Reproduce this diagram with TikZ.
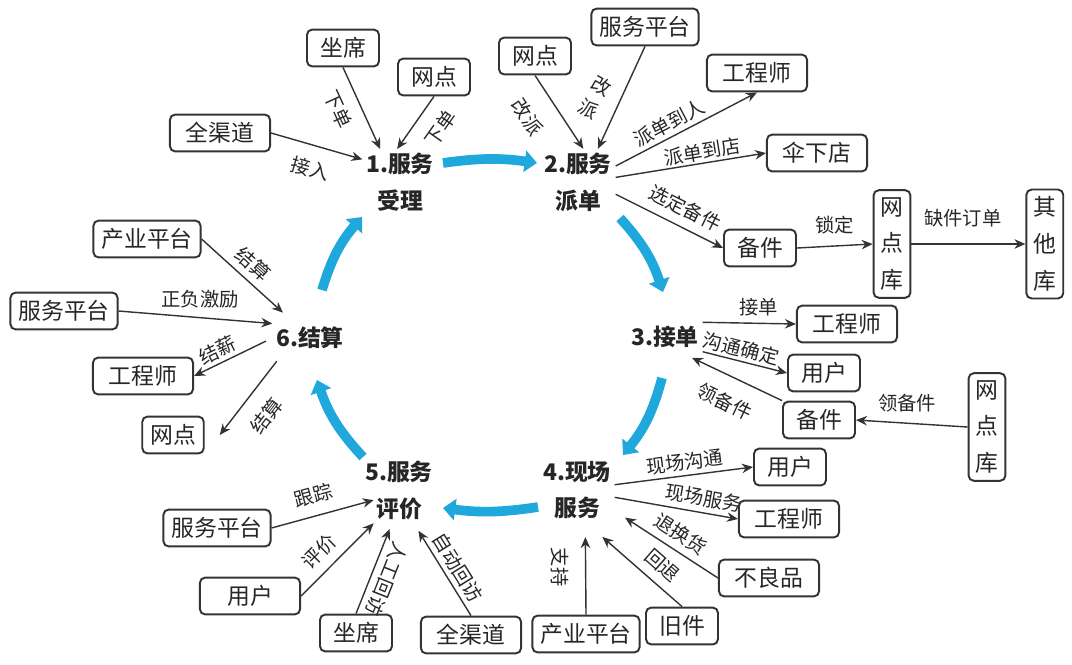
\documentclass[tikz,border=0pt]{standalone}
\usepackage{fontspec}
\setmainfont{Noto Sans CJK SC}
\usetikzlibrary{positioning,arrows.meta}
\definecolor{cycblue}{RGB}{30,168,220}

\begin{document}
\begin{tikzpicture}[x=0.02cm, y=-0.02cm,
  box/.style={draw=black!80, line width=1.1pt, rounded corners=3pt, inner xsep=4.5pt,
              minimum height=21pt, minimum width=41pt, text=black!85,
              font=\fontsize{13}{15}\selectfont},
  vbox/.style={box, align=center, minimum width=21pt, inner xsep=2pt, inner ysep=4pt,
               font=\fontsize{13}{21}\selectfont},
  stage/.style={align=center, inner sep=2pt, text=black!85,
                font=\fontsize{13}{21}\selectfont\bfseries},
  ar/.style={-{Stealth[length=2.2mm, width=1.9mm]}, line width=0.8pt, draw=black!80},
  ra/.style={{Stealth[length=2.2mm, width=1.9mm]}-, line width=0.8pt, draw=black!80},
  lbl/.style={font=\fontsize{11}{13}\selectfont, text=black!85, inner sep=1pt},
  cyc/.style={-{Triangle[length=7pt, width=12pt]}, line width=5.5pt, draw=cycblue}
]
\useasboundingbox (0,0) rectangle (1072,664);

% stages of the cycle
\node[stage] (s1) at (400,182) {1.服务\\受理};
\node[stage] (s2) at (578,182) {2.服务\\派单};
\node[stage] (s3) at (665,337) {3.接单};
\node[stage] (s4) at (577,490) {4.现场\\服务};
\node[stage] (s5) at (399,490) {5.服务\\评价};
\node[stage] (s6) at (310,338) {6.结算};

% blue cycle
\coordinate (c12a) at (443,163); \coordinate (c12b) at (537,163);
\coordinate (c23a) at (620,218); \coordinate (c23b) at (663,292);
\coordinate (c34a) at (662,378); \coordinate (c34b) at (623,455);
\coordinate (c45a) at (538,507); \coordinate (c45b) at (443,508);
\coordinate (c56a) at (363,457); \coordinate (c56b) at (317,380);
\coordinate (c61a) at (322,290); \coordinate (c61b) at (362,217);
\draw[cyc] (c12a) to[bend left=8] (c12b);
\draw[cyc] (c23a) to[bend left=12] (c23b);
\draw[cyc] (c34a) to[bend left=12] (c34b);
\draw[cyc] (c45a) to[bend left=8] (c45b);
\draw[cyc] (c56a) to[bend left=12] (c56b);
\draw[cyc] (c61a) to[bend left=12] (c61b);

% 1. accept
\node[box] (zx1) at (343,48) {坐席};
\node[box] (wd1) at (434,77) {网点};
\node[box, minimum width=57pt] (qqd1) at (220,133) {全渠道};
\draw[ar] (zx1.south) -- node[lbl, sloped, below=6pt, pos=0.4] {下单} (s1.121);
\draw[ar] (wd1.south) -- node[lbl, sloped, below=7pt, pos=0.35] {下单} (s1.95);
\draw[ar] (qqd1.east) -- node[lbl, sloped, below=7pt] {接入} (s1.149);

% 2. dispatch
\node[box] (wd2) at (535,56) {网点};
\node[box] (fwpt2) at (645,27) {服务平台};
\node[box, minimum width=57pt] (gcs2) at (757,73) {工程师};
\node[box, minimum width=57pt] (sxd) at (817,153) {伞下店};
\node[box] (bj2) at (760,248) {备件};
\node[vbox] (wdk2) at (892,244) {网\\点\\库};
\node[vbox, right=2.28cm of wdk2] (qtk) {其\\他\\库};
\draw[ar] (wd2.south) -- node[lbl, sloped, below=10pt, pos=0.35] {改派} (s2.81);
\draw[ar] (fwpt2.south) -- node[lbl, xshift=-15pt, rotate=-30, align=center,
  font=\fontsize{11}{15}\selectfont] {改\\派} (s2.59);
\draw[ar] (s2.23) -- node[lbl, sloped, above=1pt, pos=0.42] {派单到人} (gcs2.south);
\draw[ar] (s2.7) -- node[lbl, sloped, above=0pt, pos=0.59] {派单到店} (sxd.west);
\draw[ar] (s2.-18) -- node[lbl, sloped, above=4pt, pos=0.57] {选定备件} (bj2.west);
\draw[ar] (bj2.east) -- node[lbl, above=5.5pt] {锁定} (wdk2.west);
\draw[ar] (wdk2.east) -- node[lbl, above=8pt, pos=0.45] {缺件订单} (qtk.west);

% 3. take order
\node[box, minimum width=57pt] (gcs3) at (847,324) {工程师};
\node[box] (yh3) at (824,373) {用户};
\node[box] (bj3) at (819,420) {备件};
\node[vbox] (wdk3) at (987,427) {网\\点\\库};
\draw[ar] (s3.north east) -- node[lbl, above=3pt, pos=0.6] {接单} (gcs3.west);
\draw[ar] (s3.south east) -- node[lbl, sloped, above=0.5pt, pos=0.42] {沟通确定} (yh3.west);
\draw[ar, shorten >=8pt] (bj3.north west) -- node[lbl, sloped, below=8pt, pos=0.45] {领备件} (s3.-46);
\draw[ar] (wdk3.west) -- node[lbl, above=5pt, pos=0.54] {领备件} (bj3.east);

% 4. on-site service
\node[box] (yh4) at (790,467) {用户};
\node[box, minimum width=57pt] (gcs4) at (789,519) {工程师};
\node[box, minimum width=57pt] (blp) at (769,578) {不良品};
\node[box] (jj) at (682,626) {旧件};
\node[box] (cypt4) at (586,634) {产业平台};
\draw[ar] (s4.8) -- node[lbl, sloped, above=1.3pt, pos=0.52] {现场沟通} (yh4.west);
\draw[ar] (s4.-11) -- node[lbl, sloped, above=2pt, pos=0.7] {现场服务} (gcs4.west);
\draw[ar, shorten >=7pt] (blp.west) -- node[lbl, sloped, above=3pt, pos=0.45] {退换货} (s4.-29);
\draw[ar, shorten >=12pt] (jj.north) -- node[lbl, sloped, above=4pt, pos=0.33] {回退} (s4.-74);
\draw[ra, shorten <=8pt] (s4.-76) -- node[lbl, sloped, allow upside down, below=8pt, pos=0.48] {支持} (cypt4.north);

% 5. evaluation
\node[box] (fwpt5) at (217,528) {服务平台};
\node[box, minimum width=57pt] (yh5) at (250,596) {用户};
\node[box] (zx5) at (356,633) {坐席};
\node[box, minimum width=57pt] (qqd5) at (471,635) {全渠道};
\draw[ar] (fwpt5.east) -- node[lbl, sloped, above=5pt, pos=0.46] {跟踪} ([xshift=7pt]s5.195);
\draw[ar] (yh5.east) -- node[lbl, sloped, above=4pt, pos=0.43] {评价} ([xshift=7pt]s5.south west);
\draw[ra, shorten <=3.5pt] (s5.258) -- node[lbl, sloped, allow upside down, above=2.5pt, pos=0.55] {人工回访} (zx5.north);
\draw[ar, shorten >=5pt] (qqd5.north) -- node[lbl, sloped, above=1.5pt, pos=0.44] {自动回访} (s5.-66);

% 6. settlement
\node[box] (cypt6) at (147,239) {产业平台};
\node[box] (fwpt6) at (64,311) {服务平台};
\node[box, minimum width=57pt] (gcs6) at (143,376) {工程师};
\node[box, minimum width=34pt] (wd6) at (173,435) {网点};
\draw[ar, shorten >=9pt] (cypt6.east) -- node[lbl, sloped, above=2.5pt, pos=0.44] {结算} (s6.136);
\draw[ar] (fwpt6.east) -- node[lbl, above=4pt, pos=0.53] {正负激励} (s6.159);
\draw[ar, shorten <=4pt] (s6.west) -- node[lbl, sloped, above=1pt, pos=0.63] {结薪} (gcs6.east);
\draw[ar, shorten <=6pt, shorten >=14pt] (s6.209) -- node[lbl, sloped, below=8pt, pos=0.47] {结算} (wd6.south east);
\end{tikzpicture}
\end{document}
